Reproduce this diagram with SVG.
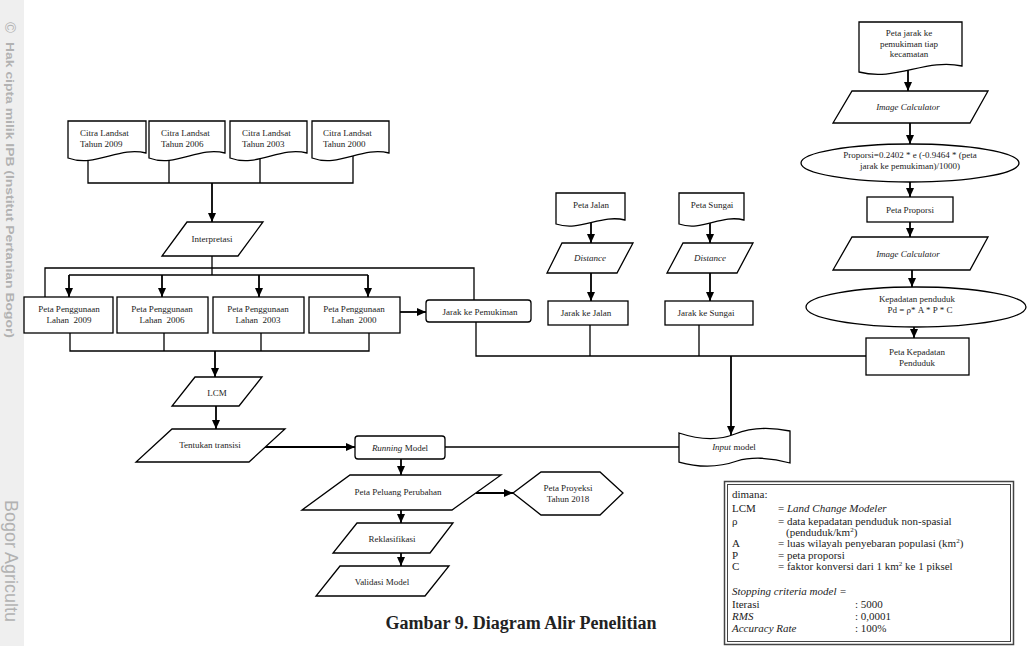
<svg xmlns="http://www.w3.org/2000/svg" width="1031" height="646" viewBox="0 0 1031 646">
<defs>
<style>
.n{fill:#fff;stroke:#000;stroke-width:1.3}
.t{font-family:"Liberation Serif","Times New Roman",serif;font-size:9px;fill:#222}
.m{text-anchor:middle}
.i{font-style:italic}
.ln{fill:none;stroke:#000;stroke-width:1.3}
.ar{fill:none;stroke:#000;stroke-width:1.8;marker-end:url(#ah)}
.lg{font-family:"Liberation Serif","Times New Roman",serif;font-size:11px;fill:#222}
.wm{font-family:"Liberation Sans",Arial,sans-serif;fill:#b2b2b2}
</style>
<marker id="ah" viewBox="0 0 10 10" refX="10" refY="5" markerWidth="9" markerHeight="8" markerUnits="userSpaceOnUse" orient="auto" preserveAspectRatio="none"><path d="M0,0 L10,5 L0,10 z" fill="#000"/></marker>
</defs>
<rect width="1031" height="646" fill="#fff"/>
<g id="watermark">
<rect x="0" y="0" width="24" height="646" fill="#efefef"/>
<text class="wm" transform="translate(5,22) rotate(90)" font-size="15">©</text>
<text class="wm" transform="translate(6,42) rotate(90)" font-size="10.5" font-weight="bold" textLength="296" lengthAdjust="spacingAndGlyphs">Hak cipta milik IPB (Institut Pertanian Bogor)</text>
<text class="wm" transform="translate(5,500) rotate(90)" font-size="18" fill="#b8b8b8">Bogor Agricultu</text>
</g>
<g id="connectors">
<polyline class="ln" points="88,158 88,183 353,183 353,156"/>
<line class="ln" x1="169" y1="156" x2="169" y2="183"/>
<line class="ln" x1="260" y1="156" x2="260" y2="183"/>
<line class="ar" x1="212" y1="183" x2="212" y2="222"/>
<line class="ln" x1="212" y1="250" x2="212" y2="275"/>
<polyline class="ln" points="45,297 45,268 474,268 474,300"/>
<line class="ln" x1="69" y1="275" x2="368" y2="275"/>
<line class="ar" x1="69" y1="275" x2="69" y2="297"/>
<line class="ar" x1="162" y1="275" x2="162" y2="297"/>
<line class="ar" x1="259" y1="275" x2="259" y2="297"/>
<line class="ar" x1="368" y1="275" x2="368" y2="297"/>
<polyline class="ln" points="70,333 70,351 369,351 369,333"/>
<line class="ln" x1="164" y1="333" x2="164" y2="351"/>
<line class="ln" x1="261" y1="333" x2="261" y2="351"/>
<line class="ar" x1="215" y1="351" x2="215" y2="377"/>
<line class="ar" x1="400" y1="312" x2="426" y2="312"/>
<line class="ar" x1="216" y1="406" x2="216" y2="429"/>
<line class="ar" x1="265" y1="447" x2="355" y2="447"/>
<line class="ln" x1="445" y1="447" x2="680" y2="447"/>
<line class="ar" x1="401" y1="459" x2="401" y2="475"/>
<line class="ar" x1="476" y1="493" x2="513" y2="493"/>
<line class="ar" x1="401" y1="510" x2="401" y2="523"/>
<line class="ar" x1="401" y1="553" x2="401" y2="566"/>
<line class="ar" x1="591" y1="222" x2="591" y2="243"/>
<line class="ar" x1="591" y1="273" x2="591" y2="301"/>
<line class="ar" x1="710" y1="222" x2="710" y2="243"/>
<line class="ar" x1="710" y1="273" x2="710" y2="301"/>
<polyline class="ln" points="476,322 476,356 866,356"/>
<line class="ln" x1="590" y1="325" x2="590" y2="356"/>
<line class="ln" x1="699" y1="325" x2="699" y2="356"/>
<line class="ar" x1="731" y1="356" x2="731" y2="435"/>
<line class="ar" x1="908" y1="68" x2="908" y2="91"/>
<line class="ar" x1="910" y1="123" x2="910" y2="144"/>
<line class="ar" x1="910" y1="182" x2="910" y2="197"/>
<line class="ar" x1="910" y1="222" x2="910" y2="237"/>
<line class="ar" x1="912" y1="270" x2="912" y2="287"/>
<line class="ar" x1="914" y1="327" x2="914" y2="338"/>
</g>
<g id="citra2009"><path class="n" d="M68,121 H146 V153 C118.7,146 95.3,168 68,158 Z"/><text class="t" x="80" y="136">Citra Landsat</text><text class="t" x="80" y="147">Tahun 2009</text></g>
<g id="citra2006"><path class="n" d="M149,121 H225 V153 C198.4,146 175.6,168 149,158 Z"/><text class="t" x="161" y="136">Citra Landsat</text><text class="t" x="161" y="147">Tahun 2006</text></g>
<g id="citra2003"><path class="n" d="M230,121 H307 V153 C280,146 257,168 230,158 Z"/><text class="t" x="242" y="136">Citra Landsat</text><text class="t" x="242" y="147">Tahun 2003</text></g>
<g id="citra2000"><path class="n" d="M312,121 H389 V153 C362,146 339,168 312,158 Z"/><text class="t" x="323" y="136">Citra Landsat</text><text class="t" x="323" y="147">Tahun 2000</text></g>
<g id="interpretasi"><polygon class="n" points="187,222 263,222 238,256 162,256"/><text class="t m" x="212" y="242">Interpretasi</text></g>
<g id="pl2009"><rect class="n" x="24" y="297" width="89" height="36"/><text class="t m" x="69" y="312">Peta Penggunaan</text><text class="t m" x="69" y="323" xml:space="preserve">Lahan  2009</text></g>
<g id="pl2006"><rect class="n" x="117" y="297" width="91" height="36"/><text class="t m" x="162" y="312">Peta Penggunaan</text><text class="t m" x="162" y="323" xml:space="preserve">Lahan  2006</text></g>
<g id="pl2003"><rect class="n" x="213" y="297" width="91" height="36"/><text class="t m" x="258" y="312">Peta Penggunaan</text><text class="t m" x="258" y="323" xml:space="preserve">Lahan  2003</text></g>
<g id="pl2000"><rect class="n" x="309" y="297" width="91" height="36"/><text class="t m" x="354" y="312">Peta Penggunaan</text><text class="t m" x="354" y="323" xml:space="preserve">Lahan  2000</text></g>
<g id="jarakPemukiman"><rect class="n" x="426" y="300" width="105" height="22" rx="3"/><text class="t m" x="480" y="315" font-size="9.5">Jarak ke Pemukiman</text></g>
<g id="lcm"><polygon class="n" points="195,377 262,377 239,406 172,406"/><text class="t m" x="217" y="396">LCM</text></g>
<g id="tentukan"><polygon class="n" points="172,429 285,429 249,462 136,462"/><text class="t m" x="210" y="448">Tentukan transisi</text></g>
<g id="running"><rect class="n" x="355" y="436" width="90" height="23" rx="3"/><text class="t m" x="400" y="451"><tspan class="i">Running</tspan> Model</text></g>
<g id="peluang"><polygon class="n" points="350,475 501,475 452,510 302,510"/><text class="t m" x="398" y="495">Peta Peluang Perubahan</text></g>
<g id="proyeksi"><polygon class="n" points="513,493 541,472 600,472 623,493 600,515 541,515"/><text class="t m" x="568" y="491">Peta Proyeksi</text><text class="t m" x="568" y="502">Tahun 2018</text></g>
<g id="reklasifikasi"><polygon class="n" points="357,523 453,523 430,553 333,553"/><text class="t m" x="392" y="542">Reklasifikasi</text></g>
<g id="validasi"><polygon class="n" points="340,566 449,566 425,596 316,596"/><text class="t m" x="382" y="585">Validasi Model</text></g>
<g id="petaJalan"><path class="n" d="M556,193 H625 V220 C601,214 580,232 556,224 Z"/><text class="t m" x="591" y="208">Peta Jalan</text></g>
<g id="distance1"><polygon class="n" points="562,243 633,243 617,273 547,273"/><text class="t m i" x="590" y="261">Distance</text></g>
<g id="jarakJalan"><rect class="n" x="548" y="301" width="80" height="24"/><text class="t m" x="586" y="316">Jarak ke Jalan</text></g>
<g id="petaSungai"><path class="n" d="M679,193 H744 V220 C721,214 702,232 679,224 Z"/><text class="t m" x="712" y="208">Peta Sungai</text></g>
<g id="distance2"><polygon class="n" points="683,243 753,243 737,273 667,273"/><text class="t m i" x="710" y="261">Distance</text></g>
<g id="jarakSungai"><rect class="n" x="665" y="301" width="88" height="24"/><text class="t m" x="706" y="316">Jarak ke Sungai</text></g>
<g id="inputModel"><path class="n" d="M679,433 C700,440 720,440 735,434 C750,428 770,427 790,431 L790,463 C770,457 750,457 737,461 C720,467 700,468 679,462 Z"/><text class="t m" x="734" y="450"><tspan class="i">Input</tspan> model</text></g>
<g id="petaJarak"><path class="n" d="M859,22 H962 V66 C926,58 895,82 859,72 Z"/><text class="t m" x="909" y="36">Peta jarak ke</text><text class="t m" x="909" y="47">pemukiman tiap</text><text class="t m" x="909" y="57">kecamatan</text></g>
<g id="imageCalc1"><polygon class="n" points="852,91 988,91 970,123 833,123"/><text class="t m i" x="908" y="110">Image Calculator</text></g>
<g id="proporsiFormula"><ellipse class="n" cx="910" cy="163" rx="109" ry="19"/><text class="t m" x="910" y="158">Proporsi=0.2402 * e (-0.9464 * (peta</text><text class="t m" x="910" y="169">jarak ke pemukiman)/1000)</text></g>
<g id="petaProporsi"><rect class="n" x="867" y="197" width="86" height="25"/><text class="t m" x="910" y="213">Peta Proporsi</text></g>
<g id="imageCalc2"><polygon class="n" points="852,237 988,237 970,270 833,270"/><text class="t m i" x="908" y="257">Image Calculator</text></g>
<g id="kepadatanFormula"><ellipse class="n" cx="916" cy="307" rx="110" ry="20"/><text class="t m" x="917" y="302">Kepadatan penduduk</text><text class="t m" x="920" y="313">Pd = ρ* A * P * C</text></g>
<g id="petaKepadatan"><rect class="n" x="866" y="338" width="103" height="37"/><text class="t m" x="917" y="355">Peta Kepadatan</text><text class="t m" x="917" y="366">Penduduk</text></g>
<g id="legend">
<rect x="724.5" y="481.5" width="289" height="163" fill="#fff" stroke="#444" stroke-width="1.5"/>
<rect x="727.5" y="484.5" width="283" height="157" fill="none" stroke="#444" stroke-width="1"/>
<text class="lg" x="732" y="498">dimana:</text>
<text class="lg" x="732" y="512">LCM</text><text class="lg" x="778" y="512">= <tspan class="i">Land Change Modeler</tspan></text>
<text class="lg" x="732" y="525">ρ</text><text class="lg" x="778" y="525">= data kepadatan penduduk non-spasial</text>
<text class="lg" x="786" y="536">(penduduk/km<tspan font-size="7" dy="-4">2</tspan><tspan dy="4">)</tspan></text>
<text class="lg" x="732" y="547">A</text><text class="lg" x="778" y="547">= luas wilayah penyebaran populasi (km<tspan font-size="7" dy="-4">2</tspan><tspan dy="4">)</tspan></text>
<text class="lg" x="732" y="559">P</text><text class="lg" x="778" y="559">= peta proporsi</text>
<text class="lg" x="732" y="570">C</text><text class="lg" x="778" y="570">= faktor konversi dari 1 km<tspan font-size="7" dy="-4">2</tspan><tspan dy="4"> ke 1 piksel</tspan></text>
<text class="lg i" x="732" y="595">Stopping criteria model =</text>
<text class="lg" x="732" y="608">Iterasi</text><text class="lg" x="855" y="608">: 5000</text>
<text class="lg i" x="732" y="620">RMS</text><text class="lg" x="855" y="620">: 0,0001</text>
<text class="lg i" x="732" y="632">Accuracy Rate</text><text class="lg" x="855" y="632">: 100%</text>
</g>
<g id="caption"><text x="521" y="629" text-anchor="middle" font-family="'Liberation Serif','Times New Roman',serif" font-size="18" font-weight="bold" fill="#222">Gambar 9. Diagram Alir Penelitian</text></g>
</svg>
